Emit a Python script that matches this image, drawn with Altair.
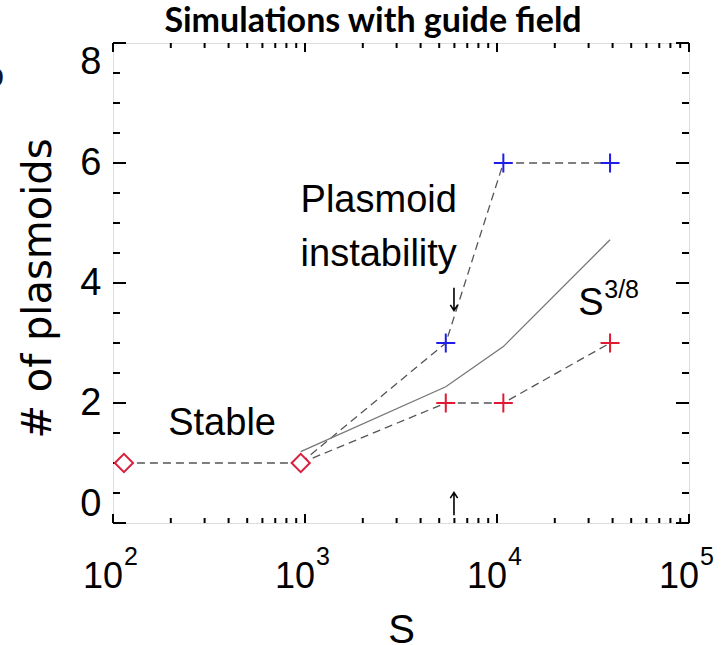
import altair as alt
import pandas as pd

# Plasmoid counts versus Lundquist number S
S_STABLE = [114, 950]
N_STABLE = [1, 1]
S_RUNS = [5410, 10790, 38800]
N_BLUE = [3, 6, 6]
N_RED = [2, 2, 3]
S_SCALING = [950, 5410, 10790, 38800]
N_SCALING = [1.19, 2.27, 2.94, 4.72]

X_TICKS = [1e2, 1e3, 1e4, 1e5]
X_EXPONENTS = ["2", "3", "4", "5"]
Y_TICKS = [0, 2, 4, 6, 8]

W, H = 576, 480
RED = "#e01a32"
DIAMOND_RED = "#d81f3e"
BLUE = "#1e1ee6"
DASH_GRAY = "#555555"
FONT = "Liberation Sans"

x_scale = alt.Scale(type="log", domain=[1e2, 1e5], nice=False)
y_scale = alt.Scale(domain=[0, 8], nice=False, zero=False)

x_enc = alt.X(
    "S:Q", scale=x_scale,
    axis=alt.Axis(labels=False, ticks=False, domain=False, grid=False,
                  title="S", titleFont=FONT, titleFontSize=40,
                  titleFontWeight="normal", titleColor="black",
                  titleBaseline="alphabetic", titleX=W / 2, titleY=119),
)
y_enc = alt.Y(
    "n:Q", scale=y_scale,
    axis=alt.Axis(values=Y_TICKS, labelFlush=True, ticks=False, domain=False,
                  grid=False, labelFont=FONT, labelFontSize=38,
                  labelColor="black", labelPadding=12,
                  title="# of plasmoids", titleFont="DejaVu Sans",
                  titleFontSize=40, titleFontWeight="normal",
                  titleColor="black", titleAngle=270, titleAlign="center",
                  titleBaseline="alphabetic", titleX=-63, titleY=245),
)

# line tables
stable_df = pd.DataFrame({"S": S_STABLE, "n": N_STABLE})
blue_df = pd.DataFrame({"S": [S_STABLE[-1]] + S_RUNS, "n": [N_STABLE[-1]] + N_BLUE})
red_df = pd.DataFrame({"S": [S_STABLE[-1]] + S_RUNS, "n": [N_STABLE[-1]] + N_RED})
scaling_df = pd.DataFrame({"S": S_SCALING, "n": N_SCALING})
blue_pts = pd.DataFrame({"S": S_RUNS, "n": N_BLUE})
red_pts = pd.DataFrame({"S": S_RUNS, "n": N_RED})

dashed = dict(strokeDash=[8, 5], strokeWidth=1.3, color=DASH_GRAY)

stable_line = alt.Chart(stable_df).mark_line(**dashed).encode(x=x_enc, y=y_enc)
blue_line = alt.Chart(blue_df).mark_line(**dashed).encode(x=x_enc, y=y_enc)
red_line = alt.Chart(red_df).mark_line(**dashed).encode(x=x_enc, y=y_enc)
scaling_line = alt.Chart(scaling_df).mark_line(
    color="#777777", strokeWidth=1.3).encode(x=x_enc, y=y_enc)

diamonds = alt.Chart(stable_df).mark_point(
    shape="diamond", size=330, fill="white", fillOpacity=1, stroke=DIAMOND_RED,
    strokeWidth=2, opacity=1).encode(x=x_enc, y=y_enc)
PLUS = "M-1,0H1M0,-1V1"
blue_cross = alt.Chart(blue_pts).mark_point(
    shape=PLUS, size=360, stroke=BLUE, strokeWidth=2, opacity=1).encode(x=x_enc, y=y_enc)
red_cross = alt.Chart(red_pts).mark_point(
    shape=PLUS, size=360, stroke=RED, strokeWidth=2, opacity=1).encode(x=x_enc, y=y_enc)

# inward tick marks on all four sides
X_MINOR = [m * 10 ** e for e in (2, 3, 4) for m in range(2, 10)]
Y_MINOR = [v / 2 for v in range(1, 16) if v % 4 != 0]
xmaj = pd.DataFrame({"S": X_TICKS})
xmin = pd.DataFrame({"S": X_MINOR})
ymaj = pd.DataFrame({"n": Y_TICKS})
ymin = pd.DataFrame({"n": Y_MINOR})

tick_style = dict(color="black", strokeWidth=2)
ticks = [
    alt.Chart(xmaj).mark_rule(**tick_style).encode(x=x_enc, y=alt.value(H), y2=alt.value(H - 9)),
    alt.Chart(xmin).mark_rule(**tick_style).encode(x=x_enc, y=alt.value(H), y2=alt.value(H - 5)),
    alt.Chart(xmaj).mark_rule(**tick_style).encode(x=x_enc, y=alt.value(0), y2=alt.value(9)),
    alt.Chart(xmin).mark_rule(**tick_style).encode(x=x_enc, y=alt.value(0), y2=alt.value(5)),
    alt.Chart(ymaj).mark_rule(**tick_style).encode(y=y_enc, x=alt.value(0), x2=alt.value(13)),
    alt.Chart(ymin).mark_rule(**tick_style).encode(y=y_enc, x=alt.value(0), x2=alt.value(7)),
    alt.Chart(ymaj).mark_rule(**tick_style).encode(y=y_enc, x=alt.value(W), x2=alt.value(W - 13)),
    alt.Chart(ymin).mark_rule(**tick_style).encode(y=y_enc, x=alt.value(W), x2=alt.value(W - 7)),
]

# decade labels 10^k
xlab_df = pd.DataFrame({"S": X_TICKS, "base": ["10"] * len(X_TICKS), "exp": X_EXPONENTS})
x_base = alt.Chart(xlab_df).mark_text(
    font=FONT, fontSize=36, align="right", baseline="alphabetic", dx=10,
    color="black").encode(x=x_enc, y=alt.value(545), text="base:N")
x_exp = alt.Chart(xlab_df).mark_text(
    font=FONT, fontSize=25, align="left", baseline="alphabetic", dx=11,
    color="black").encode(x=x_enc, y=alt.value(522), text="exp:N")

# annotations
notes = pd.DataFrame({
    "label": ["Plasmoid", "instability", "Stable"],
    "S": [2420, 2420, 370],
    "n": [5.18, 4.28, 1.47],
})
note_text = alt.Chart(notes).mark_text(
    font=FONT, fontSize=38, align="center", baseline="alphabetic",
    color="black").encode(x=x_enc, y=y_enc, text="label:N")

# thin arrows marking the onset of the instability
ARROW_DOWN = "M0,-1V1M-0.32,0.5L0,1L0.32,0.5"
ARROW_UP = "M0,1V-1M-0.32,-0.5L0,-1L0.32,-0.5"
arrow_down = alt.Chart(pd.DataFrame({"S": [5970], "n": [3.73]})).mark_point(
    shape=ARROW_DOWN, size=520, stroke="black", strokeWidth=1.6, opacity=1,
    filled=False).encode(x=x_enc, y=y_enc)
arrow_up = alt.Chart(pd.DataFrame({"S": [5970], "n": [0.32]})).mark_point(
    shape=ARROW_UP, size=520, stroke="black", strokeWidth=1.6, opacity=1,
    filled=False).encode(x=x_enc, y=y_enc)

power = pd.DataFrame({"S": [26500], "n": [3.47], "base": ["S"], "exp": ["3/8"]})
power_base = alt.Chart(power).mark_text(
    font=FONT, fontSize=38, align="left", baseline="alphabetic",
    color="black").encode(x=x_enc, y=y_enc, text="base:N")
power_exp = alt.Chart(power).mark_text(
    font=FONT, fontSize=25, align="left", baseline="alphabetic", dx=26, dy=-17,
    color="black").encode(x=x_enc, y=y_enc, text="exp:N")

panel_tag = alt.Chart(pd.DataFrame({"t": ["b"]})).mark_text(
    font="Lato", fontSize=36, fontWeight="bold", align="right",
    baseline="alphabetic", color="#141432").encode(
    x=alt.value(-109), y=alt.value(44), text="t:N")

heading = alt.Chart(pd.DataFrame({"t": ["Simulations with guide field"]})).mark_text(
    font="Lato", fontSize=34, fontWeight="bold", align="center",
    baseline="alphabetic", color="black").encode(
    x=alt.value(260), y=alt.value(-11), text="t:N")

chart = alt.layer(
    *ticks,
    stable_line, blue_line, red_line, scaling_line,
    diamonds, blue_cross, red_cross,
    x_base, x_exp, note_text, arrow_down, arrow_up, power_base, power_exp,
    panel_tag, heading,
).properties(
    width=W, height=H,
    autosize=alt.AutoSizeParams(type="none"),
    padding={"left": 113, "top": 43, "right": 37, "bottom": 122},
).configure_view(
    stroke="black", strokeWidth=2,
).configure(background="white")

chart.save("out.html", embed_options={"renderer": "svg", "actions": False})
